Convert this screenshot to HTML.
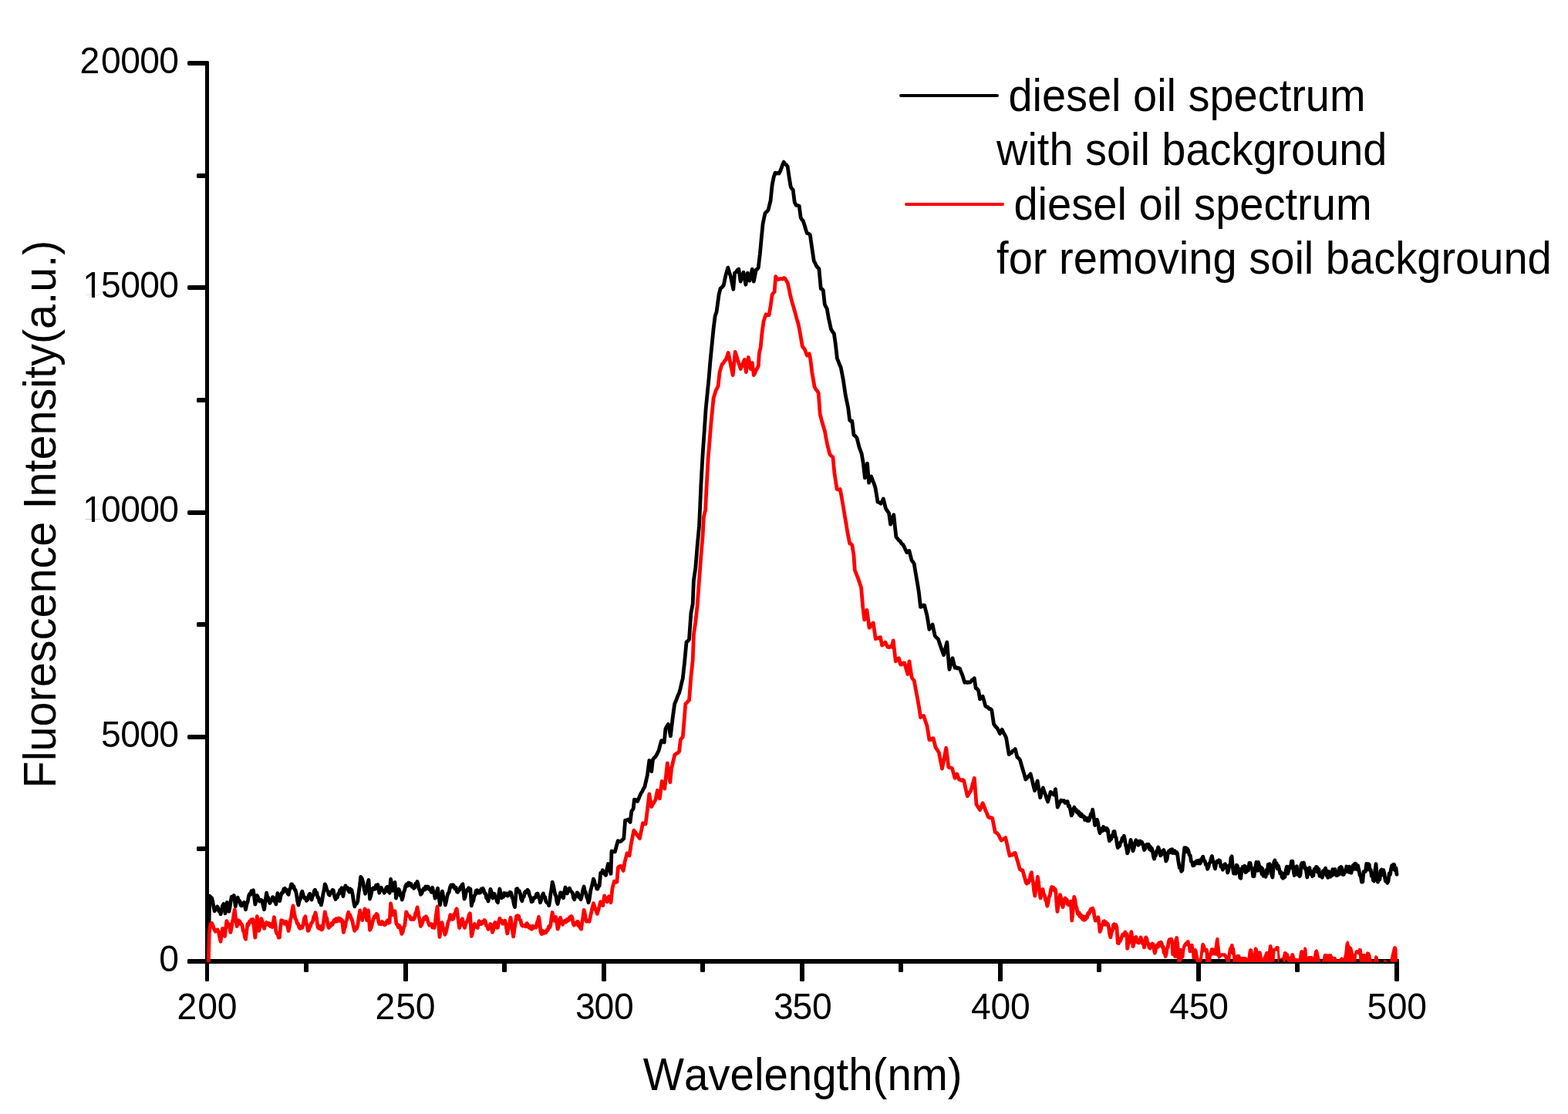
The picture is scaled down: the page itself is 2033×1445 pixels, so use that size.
<!DOCTYPE html><html><head><meta charset="utf-8"><title>Fluorescence spectrum</title><style>html,body{margin:0;padding:0;background:#fff;overflow:hidden}svg{display:block}text{font-family:"Liberation Sans",Arial,sans-serif;fill:#000;font-kerning:none}</style></head><body>
<svg width="2033" height="1445" viewBox="0 0 2033 1445">
<rect width="2033" height="1445" fill="#fff"/>
<g fill="#000">
<rect x="266" y="79" width="5" height="1194" rx="1.5"/>
<rect x="243" y="1244" width="1571" height="6" rx="1.5"/>
<rect x="243" y="1244" width="25" height="6" rx="2"/>
<rect x="255" y="1098" width="13" height="6" rx="1.5"/>
<rect x="243" y="953" width="25" height="6" rx="2"/>
<rect x="255" y="807" width="13" height="6" rx="1.5"/>
<rect x="243" y="662" width="25" height="6" rx="2"/>
<rect x="255" y="516" width="13" height="6" rx="1.5"/>
<rect x="243" y="370" width="25" height="6" rx="2"/>
<rect x="255" y="225" width="13" height="6" rx="1.5"/>
<rect x="243" y="79" width="25" height="6" rx="2"/>
<rect x="394" y="1244" width="6" height="17" rx="1.5"/>
<rect x="523" y="1244" width="6" height="29" rx="1.5"/>
<rect x="651" y="1244" width="6" height="17" rx="1.5"/>
<rect x="780" y="1244" width="6" height="29" rx="1.5"/>
<rect x="908" y="1244" width="6" height="17" rx="1.5"/>
<rect x="1037" y="1244" width="6" height="29" rx="1.5"/>
<rect x="1165" y="1244" width="6" height="17" rx="1.5"/>
<rect x="1294" y="1244" width="6" height="29" rx="1.5"/>
<rect x="1422" y="1244" width="6" height="17" rx="1.5"/>
<rect x="1551" y="1244" width="6" height="29" rx="1.5"/>
<rect x="1679" y="1244" width="6" height="17" rx="1.5"/>
<rect x="1808" y="1244" width="6" height="29" rx="1.5"/>
</g>
<defs><clipPath id="pa"><rect x="268" y="0" width="1546" height="1248"/></clipPath></defs>
<g clip-path="url(#pa)">
<path d="M270.8,1207.4 L271.8,1162.1 L274.8,1165.1 L275.9,1170.1 L277.1,1177.0 L278.2,1181.8 L279.3,1178.0 L280.5,1179.4 L281.6,1175.9 L282.7,1177.6 L283.9,1182.1 L285.0,1182.0 L286.1,1185.8 L287.3,1181.1 L288.5,1174.9 L290.0,1172.5 L291.5,1173.9 L292.0,1184.8 L293.2,1178.2 L294.4,1170.5 L295.7,1175.4 L296.9,1182.3 L298.0,1177.0 L299.2,1168.6 L300.3,1163.1 L301.8,1164.1 L303.3,1161.6 L305.3,1175.9 L306.7,1168.6 L308.2,1164.1 L309.4,1168.8 L310.7,1168.5 L311.9,1173.8 L313.1,1174.9 L314.3,1171.7 L315.4,1173.1 L316.6,1170.5 L318.5,1179.8 L319.8,1173.4 L321.2,1169.7 L322.5,1162.1 L323.6,1159.5 L324.8,1160.3 L326.0,1155.7 L327.2,1157.8 L328.4,1154.8 L329.6,1163.0 L330.8,1173.0 L332.1,1168.7 L333.3,1161.6 L334.4,1163.4 L335.6,1168.2 L336.7,1169.0 L338.2,1167.2 L339.7,1168.0 L341.2,1174.6 L342.6,1179.8 L344.1,1167.9 L345.6,1158.2 L346.7,1163.4 L347.8,1164.0 L348.9,1169.6 L350.0,1171.5 L351.2,1167.8 L352.3,1167.9 L353.5,1163.6 L354.6,1164.3 L355.7,1169.2 L356.8,1168.8 L357.9,1173.0 L359.9,1158.7 L361.3,1165.0 L362.8,1168.5 L364.0,1162.0 L365.3,1158.2 L366.6,1158.1 L367.9,1153.0 L369.2,1152.3 L370.4,1156.1 L371.7,1154.3 L372.9,1159.0 L374.1,1160.2 L375.3,1154.1 L376.4,1152.4 L377.6,1146.9 L378.6,1147.0 L379.7,1150.7 L380.8,1149.6 L381.9,1153.9 L383.0,1154.3 L384.3,1159.3 L385.6,1168.2 L386.9,1173.9 L388.1,1168.2 L389.4,1166.2 L390.6,1159.3 L391.8,1156.2 L393.3,1161.5 L394.8,1165.1 L396.1,1164.7 L397.4,1168.4 L398.7,1167.1 L400.2,1161.5 L401.7,1159.2 L402.9,1164.4 L404.1,1167.1 L405.2,1162.0 L406.3,1161.5 L407.4,1155.7 L408.5,1154.3 L409.7,1157.9 L410.8,1157.9 L411.9,1164.2 L413.0,1164.1 L414.2,1170.3 L415.3,1169.4 L416.4,1173.9 L417.6,1168.6 L418.9,1159.9 L420.1,1154.6 L421.3,1146.9 L422.6,1149.5 L423.8,1154.4 L425.0,1156.0 L426.3,1160.2 L427.4,1161.2 L428.6,1157.1 L429.8,1158.1 L431.0,1154.4 L432.2,1154.8 L433.6,1162.3 L435.1,1166.6 L436.2,1162.4 L437.4,1164.0 L438.5,1159.3 L439.6,1159.6 L440.7,1154.4 L441.9,1154.6 L443.0,1151.8 L444.9,1162.6 L446.4,1154.4 L447.9,1148.9 L449.2,1152.2 L450.5,1151.6 L451.8,1155.3 L452.9,1156.9 L453.9,1152.9 L454.9,1156.1 L455.9,1154.3 L457.2,1160.4 L458.5,1169.4 L459.8,1175.9 L461.1,1172.2 L462.5,1172.1 L463.8,1169.0 L465.1,1157.6 L466.4,1149.0 L467.7,1137.5 L469.2,1139.3 L470.7,1144.4 L472.1,1152.8 L473.6,1159.2 L474.7,1154.2 L475.8,1151.5 L476.9,1145.1 L478.0,1141.5 L479.5,1166.1 L481.0,1161.1 L482.5,1153.3 L483.9,1151.9 L485.4,1153.3 L486.5,1153.1 L487.6,1148.3 L488.7,1150.1 L489.8,1147.4 L491.8,1158.2 L493.0,1153.7 L494.3,1151.3 L495.6,1154.8 L496.9,1154.6 L498.2,1158.2 L499.5,1156.3 L500.8,1151.5 L502.1,1150.3 L503.6,1156.1 L505.1,1158.2 L506.6,1140.5 L507.8,1146.8 L509.0,1155.3 L510.5,1151.3 L512.0,1144.4 L513.5,1165.1 L514.6,1159.4 L515.7,1158.9 L516.9,1153.3 L518.0,1155.2 L519.1,1161.8 L520.2,1161.9 L521.3,1167.1 L522.4,1163.5 L523.5,1157.1 L524.6,1154.7 L525.8,1149.4 L527.0,1147.2 L528.2,1149.0 L529.4,1145.2 L530.7,1145.4 L531.8,1148.4 L533.0,1146.6 L534.2,1150.4 L535.4,1149.6 L536.6,1152.3 L537.7,1151.3 L538.8,1146.2 L539.9,1146.4 L541.0,1143.4 L542.1,1146.9 L543.2,1153.0 L544.3,1154.9 L545.4,1160.2 L546.9,1158.8 L548.4,1154.3 L549.5,1152.4 L550.7,1154.0 L551.8,1150.0 L553.0,1152.8 L554.1,1150.0 L555.3,1150.3 L556.6,1153.7 L557.9,1153.8 L559.2,1157.2 L560.7,1151.3 L561.8,1156.7 L563.0,1159.3 L564.1,1165.1 L565.3,1162.6 L566.4,1155.9 L567.6,1152.3 L569.0,1164.0 L570.5,1173.9 L572.0,1163.9 L573.5,1156.2 L574.8,1163.7 L576.1,1166.3 L577.4,1173.9 L578.5,1169.7 L579.7,1162.9 L580.8,1159.2 L582.2,1157.2 L583.5,1151.0 L584.8,1147.9 L586.1,1150.1 L587.4,1147.8 L588.7,1149.4 L589.9,1153.1 L591.2,1151.2 L592.4,1156.7 L593.6,1157.2 L594.7,1154.8 L595.8,1154.5 L596.8,1150.8 L597.9,1152.3 L599.0,1147.6 L600.0,1146.9 L602.0,1166.1 L603.1,1163.6 L604.3,1157.1 L605.4,1154.3 L606.5,1155.2 L607.6,1151.8 L608.8,1154.8 L609.9,1153.3 L611.3,1174.9 L612.5,1169.9 L613.7,1168.6 L614.9,1161.9 L616.1,1160.8 L617.2,1155.3 L618.4,1154.7 L619.5,1158.2 L620.7,1158.2 L621.8,1155.6 L622.8,1157.9 L623.9,1153.1 L625.0,1155.7 L626.1,1152.3 L627.2,1154.5 L628.4,1159.0 L629.5,1159.0 L630.7,1165.0 L631.8,1164.8 L633.0,1169.0 L634.5,1162.4 L635.9,1153.3 L637.4,1157.6 L638.9,1165.1 L640.9,1159.2 L642.0,1163.6 L643.1,1163.6 L644.3,1169.2 L645.4,1170.7 L646.6,1160.7 L647.9,1153.0 L649.1,1159.8 L650.3,1164.8 L651.4,1161.6 L652.5,1163.4 L653.6,1158.5 L654.8,1158.9 L656.0,1160.9 L657.2,1159.1 L658.4,1162.0 L659.7,1160.8 L661.2,1157.3 L662.6,1157.9 L663.9,1163.9 L665.1,1165.9 L666.3,1172.9 L667.5,1176.6 L669.5,1153.0 L670.8,1152.7 L672.1,1156.8 L673.4,1155.9 L674.6,1159.5 L675.7,1166.1 L676.9,1168.7 L678.0,1163.4 L679.2,1163.3 L680.3,1157.9 L681.6,1156.4 L682.8,1157.8 L684.0,1154.2 L685.3,1155.9 L686.6,1161.6 L687.9,1164.2 L689.2,1169.7 L690.5,1169.3 L691.8,1164.7 L693.1,1164.8 L694.4,1163.7 L695.7,1159.4 L697.1,1158.9 L698.2,1164.2 L699.4,1165.2 L700.5,1170.7 L701.8,1167.3 L703.1,1161.1 L704.4,1158.9 L705.5,1163.0 L706.7,1163.6 L707.8,1169.1 L708.9,1170.7 L710.3,1171.5 L711.8,1174.6 L712.9,1168.3 L714.0,1158.7 L715.1,1152.7 L716.2,1144.1 L717.5,1148.8 L718.7,1154.9 L719.8,1160.7 L720.9,1162.1 L722.0,1169.8 L723.1,1172.6 L724.3,1167.0 L725.4,1164.1 L726.6,1157.9 L727.9,1158.2 L729.2,1163.4 L730.5,1164.8 L731.7,1156.9 L733.0,1151.0 L734.2,1156.4 L735.4,1158.9 L736.9,1153.8 L738.4,1152.0 L739.9,1155.8 L741.3,1156.9 L742.5,1158.7 L743.6,1164.9 L744.8,1166.7 L745.9,1162.7 L747.1,1162.3 L748.2,1157.9 L749.4,1158.6 L750.7,1164.0 L751.9,1163.1 L753.1,1166.7 L754.4,1162.1 L755.8,1154.5 L757.1,1150.0 L758.2,1155.9 L759.4,1157.5 L760.6,1163.2 L761.8,1166.0 L763.0,1170.7 L764.3,1165.6 L765.6,1155.9 L766.9,1151.0 L768.1,1146.4 L769.4,1140.2 L770.5,1142.4 L771.6,1147.4 L772.7,1148.4 L773.8,1153.0 L774.9,1153.1 L776.1,1148.4 L777.2,1149.0 L778.7,1132.3 L780.0,1132.7 L781.3,1128.8 L782.6,1130.3 L784.1,1134.1 L785.6,1135.3 L787.1,1126.4 L788.5,1120.5 L789.7,1126.3 L790.8,1128.7 L792.0,1133.3 L793.0,1103.8 L795.2,1104.9 L797.4,1104.8 L799.3,1097.4 L801.2,1090.6 L803.2,1091.6 L805.3,1091.2 L807.1,1089.1 L808.8,1087.6 L810.6,1064.1 L812.4,1064.2 L814.1,1062.9 L817.1,1066.5 L818.8,1052.4 L821.2,1048.8 L822.4,1037.1 L824.4,1037.4 L826.5,1039.4 L828.0,1036.3 L829.6,1032.2 L831.2,1028.8 L832.7,1026.5 L834.3,1023.0 L835.9,1020.6 L837.6,1013.1 L839.4,1005.3 L841.8,986.5 L844.7,1000.6 L846.5,985.3 L848.0,983.1 L849.6,981.9 L851.2,979.4 L854.1,973.5 L855.9,966.7 L857.6,960.6 L859.4,962.3 L861.2,962.9 L862.9,945.3 L864.7,942.0 L866.5,939.4 L869.4,954.7 L872.4,929.4 L874.7,912.9 L876.7,908.5 L878.6,903.1 L880.6,898.8 L882.2,892.8 L883.7,886.2 L885.3,880.0 L887.6,858.8 L890.0,832.9 L891.8,831.5 L893.5,829.4 L895.9,795.3 L898.2,783.5 L899.4,752.9 L901.8,736.5 L904.1,708.2 L906.5,682.4 L907.6,658.8 L908.8,630.6 L911.0,591.0 L913.1,560.9 L915.1,530.8 L917.1,510.7 L919.1,490.6 L921.1,466.5 L923.1,446.5 L925.1,426.4 L927.1,410.3 L929.1,404.3 L930.6,393.1 L932.1,382.2 L934.1,374.2 L936.1,372.6 L938.2,370.2 L939.7,362.9 L941.2,356.1 L943.8,347.1 L945.5,352.9 L947.2,358.1 L949.0,366.4 L950.8,375.2 L952.6,354.1 L954.4,353.0 L956.1,350.3 L957.8,349.1 L960.2,365.1 L962.0,359.3 L963.9,353.1 L965.4,361.0 L966.9,369.2 L969.3,354.1 L971.9,364.1 L973.6,356.9 L975.3,349.1 L977.3,365.1 L978.8,357.5 L980.3,350.1 L981.8,349.1 L983.3,347.1 L984.3,338.0 L985.3,330.0 L987.1,310.4 L989.1,290.3 L990.6,283.1 L992.1,276.3 L994.1,274.6 L996.1,272.3 L997.6,266.1 L999.1,260.2 L1001.1,240.2 L1003.1,230.1 L1005.1,224.1 L1006.8,225.1 L1008.5,224.2 L1010.1,225.1 L1011.6,221.9 L1013.1,218.1 L1014.6,213.8 L1016.2,210.1 L1017.8,212.7 L1019.5,213.8 L1021.2,216.1 L1023.2,230.1 L1025.2,242.2 L1026.7,244.8 L1028.2,246.2 L1030.2,262.2 L1032.2,266.3 L1034.2,266.4 L1036.2,267.3 L1038.2,282.3 L1039.7,284.9 L1041.2,286.3 L1042.9,291.5 L1044.6,297.3 L1046.3,302.4 L1048.3,303.1 L1050.3,304.4 L1052.3,318.4 L1053.8,328.6 L1055.3,338.5 L1056.8,341.1 L1058.3,344.5 L1060.1,347.0 L1061.9,348.5 L1064.3,374.6 L1065.8,374.9 L1067.3,376.6 L1069.3,394.7 L1070.8,397.9 L1072.3,400.7 L1074.3,412.7 L1075.9,419.6 L1077.4,426.8 L1079.4,430.2 L1081.4,432.8 L1083.4,446.9 L1085.4,464.9 L1087.0,468.7 L1088.6,473.1 L1090.2,476.6 L1091.8,484.8 L1093.4,493.2 L1094.9,503.7 L1096.5,514.0 L1098.0,521.1 L1099.6,528.5 L1101.7,545.2 L1103.2,546.4 L1104.8,546.2 L1106.9,563.9 L1108.9,565.7 L1111.0,568.0 L1112.6,574.4 L1114.1,580.5 L1115.7,584.4 L1117.2,588.8 L1119.3,601.2 L1121.4,619.9 L1123.0,610.7 L1124.5,601.2 L1126.6,626.2 L1128.1,621.7 L1129.7,617.9 L1131.4,623.0 L1133.2,627.2 L1134.9,632.4 L1136.5,641.9 L1138.0,651.1 L1140.1,651.7 L1142.2,653.2 L1143.7,650.3 L1145.3,646.9 L1146.8,653.1 L1148.4,659.4 L1150.5,662.8 L1152.6,665.6 L1154.6,680.2 L1156.7,673.7 L1158.8,667.7 L1160.3,682.4 L1161.9,696.8 L1163.6,698.3 L1165.4,700.9 L1167.1,701.9 L1168.9,705.0 L1170.6,706.2 L1172.4,709.5 L1174.1,713.3 L1175.8,716.6 L1177.4,714.9 L1178.9,714.5 L1180.5,721.0 L1182.1,727.0 L1183.6,728.7 L1185.2,731.2 L1186.7,740.7 L1188.3,749.9 L1189.9,759.0 L1191.4,768.6 L1193.5,787.3 L1195.2,786.9 L1197.0,785.0 L1198.7,785.2 L1200.2,791.7 L1201.8,797.6 L1203.4,806.9 L1204.9,816.3 L1207.0,813.6 L1209.1,810.1 L1210.6,817.2 L1212.2,824.7 L1214.3,827.2 L1216.3,828.8 L1218.4,834.9 L1220.5,841.3 L1222.1,845.7 L1223.6,849.6 L1225.7,841.0 L1227.8,833.0 L1229.3,850.7 L1230.9,868.3 L1233.0,860.7 L1235.0,853.7 L1236.6,860.1 L1238.2,866.2 L1239.7,865.5 L1241.3,867.1 L1242.8,866.5 L1244.4,867.2 L1246.2,872.0 L1248.0,876.2 L1250.7,885.2 L1252.3,884.6 L1253.8,885.6 L1255.4,884.7 L1257.0,885.2 L1258.6,884.5 L1260.1,882.2 L1261.7,881.4 L1263.3,879.8 L1265.1,892.4 L1266.9,893.5 L1268.7,896.0 L1270.5,906.8 L1272.3,905.6 L1274.1,903.2 L1275.9,909.3 L1277.7,915.8 L1279.3,917.2 L1280.9,917.2 L1282.5,919.7 L1284.1,919.4 L1285.8,921.2 L1288.5,939.1 L1290.7,942.3 L1292.9,944.5 L1294.7,947.8 L1296.5,951.7 L1299.2,946.3 L1301.0,950.4 L1302.8,953.2 L1304.6,957.1 L1306.4,968.0 L1308.2,978.7 L1309.9,977.0 L1311.5,976.4 L1313.1,973.8 L1314.7,973.5 L1316.3,971.5 L1319.0,982.3 L1320.8,983.5 L1322.6,985.9 L1324.4,992.4 L1326.2,998.5 L1328.0,1004.6 L1329.8,1011.1 L1331.4,1009.6 L1333.0,1007.1 L1334.5,1006.0 L1336.1,1003.9 L1337.9,1010.8 L1339.7,1018.4 L1341.5,1025.5 L1343.3,1019.0 L1345.1,1012.9 L1346.9,1023.9 L1348.7,1034.5 L1350.5,1028.0 L1352.3,1021.9 L1353.9,1026.6 L1355.4,1030.5 L1357.0,1035.7 L1358.6,1039.9 L1360.4,1033.4 L1362.2,1027.3 L1364.4,1029.4 L1366.7,1030.9 L1368.5,1023.7 L1371.2,1047.1 L1373.4,1042.2 L1375.7,1038.1 L1377.5,1039.2 L1379.3,1038.4 L1381.1,1041.5 L1382.9,1039.9 L1384.1,1039.6 L1385.3,1045.7 L1386.5,1045.3 L1387.8,1050.6 L1389.2,1057.8 L1390.4,1056.0 L1391.6,1049.9 L1392.8,1047.1 L1393.9,1049.7 L1395.0,1049.8 L1396.1,1053.4 L1397.3,1054.2 L1398.3,1052.5 L1399.3,1057.1 L1400.3,1054.4 L1401.3,1058.6 L1402.3,1056.3 L1403.3,1059.2 L1404.3,1058.9 L1405.4,1058.8 L1406.5,1063.5 L1407.6,1060.7 L1408.7,1063.3 L1409.7,1064.6 L1410.8,1061.1 L1411.9,1064.5 L1413.0,1061.8 L1414.2,1056.1 L1415.4,1055.3 L1416.6,1050.2 L1418.1,1059.2 L1419.6,1070.5 L1421.0,1068.3 L1422.5,1063.3 L1423.7,1067.6 L1424.9,1076.3 L1426.1,1080.7 L1427.2,1076.1 L1428.3,1074.9 L1429.4,1077.8 L1430.6,1072.5 L1431.7,1076.5 L1432.8,1074.0 L1434.0,1076.9 L1435.1,1074.5 L1436.3,1076.3 L1437.4,1085.2 L1438.4,1090.9 L1439.5,1086.9 L1440.6,1088.5 L1441.7,1083.8 L1442.8,1084.8 L1443.9,1078.7 L1445.0,1078.5 L1446.1,1084.8 L1447.2,1087.3 L1448.3,1095.0 L1449.3,1099.6 L1450.5,1096.3 L1451.6,1097.4 L1452.8,1092.2 L1453.9,1091.9 L1455.1,1087.0 L1456.2,1088.5 L1457.3,1084.3 L1458.4,1088.5 L1459.5,1096.2 L1460.6,1100.2 L1461.7,1106.9 L1462.8,1104.2 L1463.9,1097.0 L1465.0,1094.7 L1466.1,1089.4 L1467.5,1096.1 L1469.0,1103.9 L1470.4,1099.2 L1471.9,1092.3 L1472.9,1089.8 L1473.9,1093.9 L1474.9,1091.2 L1475.9,1096.2 L1477.0,1093.8 L1478.2,1091.0 L1479.4,1094.2 L1480.6,1092.3 L1482.0,1095.7 L1483.5,1102.5 L1484.7,1101.0 L1485.9,1096.0 L1487.1,1095.2 L1488.2,1097.8 L1489.2,1095.3 L1490.2,1101.4 L1491.3,1098.0 L1492.3,1103.0 L1493.4,1100.4 L1494.4,1103.9 L1495.5,1111.0 L1496.6,1114.1 L1497.6,1109.8 L1498.6,1109.6 L1499.6,1104.0 L1500.6,1102.8 L1501.7,1098.9 L1503.1,1102.6 L1504.6,1109.8 L1505.7,1108.8 L1506.8,1104.3 L1507.8,1105.3 L1508.9,1102.5 L1510.4,1108.2 L1511.8,1117.0 L1513.1,1114.5 L1514.3,1106.2 L1515.5,1103.9 L1516.6,1105.7 L1517.7,1102.2 L1518.7,1105.7 L1519.8,1101.6 L1520.9,1106.5 L1522.0,1103.9 L1523.1,1103.6 L1524.2,1106.9 L1525.3,1105.2 L1526.4,1106.9 L1527.8,1117.1 L1529.3,1125.7 L1530.5,1124.5 L1531.7,1130.3 L1532.9,1128.7 L1534.4,1112.6 L1535.8,1099.6 L1536.8,1101.4 L1537.9,1099.7 L1538.9,1104.7 L1539.9,1101.3 L1540.9,1103.9 L1542.1,1109.0 L1543.2,1109.6 L1544.4,1117.3 L1545.6,1118.2 L1546.7,1122.8 L1548.2,1122.4 L1549.6,1118.5 L1550.7,1117.3 L1551.7,1119.8 L1552.7,1116.5 L1553.8,1119.9 L1554.8,1115.9 L1555.9,1120.1 L1556.9,1118.5 L1558.3,1113.8 L1559.8,1111.2 L1561.0,1116.2 L1562.1,1116.5 L1563.3,1121.6 L1564.4,1121.7 L1565.6,1127.2 L1566.8,1124.9 L1567.9,1119.6 L1569.1,1118.7 L1570.3,1113.1 L1571.4,1110.5 L1572.5,1116.4 L1573.5,1117.9 L1574.5,1123.5 L1575.5,1126.9 L1576.8,1119.9 L1578.0,1117.1 L1579.2,1118.3 L1580.5,1115.8 L1581.7,1116.6 L1582.9,1124.2 L1584.1,1123.1 L1585.4,1128.1 L1586.4,1126.4 L1587.4,1121.4 L1588.4,1120.7 L1589.5,1123.8 L1590.6,1123.4 L1591.7,1132.0 L1592.7,1129.4 L1593.8,1122.4 L1594.9,1123.9 L1596.0,1112.5 L1597.1,1110.9 L1598.3,1124.9 L1599.5,1133.0 L1600.7,1126.5 L1602.0,1133.4 L1603.2,1122.2 L1604.4,1123.2 L1605.5,1131.5 L1606.6,1127.0 L1607.7,1138.6 L1608.7,1139.2 L1610.0,1129.2 L1611.2,1124.4 L1612.4,1129.4 L1613.7,1123.2 L1614.9,1131.6 L1616.1,1130.6 L1617.3,1124.6 L1618.6,1129.0 L1619.8,1119.5 L1621.0,1119.5 L1622.3,1126.0 L1623.5,1126.3 L1624.7,1136.6 L1626.0,1136.7 L1627.8,1124.4 L1629.0,1118.3 L1630.3,1129.4 L1631.5,1118.5 L1632.7,1123.2 L1633.8,1129.0 L1634.8,1124.8 L1635.9,1133.6 L1636.9,1126.7 L1638.0,1136.3 L1639.0,1131.6 L1640.1,1135.5 L1641.1,1137.3 L1642.1,1128.5 L1643.2,1133.2 L1644.2,1121.5 L1645.2,1126.7 L1646.2,1120.7 L1647.5,1123.1 L1648.7,1134.3 L1649.9,1138.0 L1651.8,1118.3 L1652.9,1116.0 L1654.0,1123.2 L1655.2,1119.7 L1656.3,1126.9 L1657.4,1123.1 L1658.5,1126.9 L1659.8,1133.0 L1661.0,1131.2 L1662.2,1137.8 L1663.5,1139.2 L1664.7,1133.2 L1665.9,1137.7 L1667.1,1129.4 L1668.4,1124.1 L1669.6,1133.2 L1670.8,1129.4 L1672.1,1124.0 L1673.3,1125.2 L1674.5,1117.1 L1675.8,1117.1 L1677.0,1129.1 L1678.2,1135.5 L1680.1,1125.7 L1681.3,1123.8 L1682.5,1134.5 L1683.7,1129.2 L1685.0,1136.7 L1686.0,1134.6 L1687.0,1121.5 L1688.1,1119.5 L1689.3,1124.1 L1690.5,1119.0 L1691.7,1126.5 L1693.0,1125.7 L1694.8,1138.0 L1696.7,1126.9 L1697.9,1125.5 L1699.1,1133.6 L1700.3,1130.9 L1701.6,1136.7 L1702.8,1135.8 L1704.0,1127.3 L1705.3,1129.7 L1706.5,1124.4 L1707.6,1124.8 L1708.8,1131.8 L1709.9,1127.3 L1711.0,1136.4 L1712.1,1132.5 L1713.3,1136.7 L1714.3,1138.1 L1715.4,1129.7 L1716.5,1132.2 L1717.6,1128.1 L1718.6,1126.2 L1719.6,1135.4 L1720.6,1129.5 L1721.7,1138.4 L1722.7,1130.4 L1723.7,1136.7 L1724.7,1137.3 L1725.8,1131.7 L1726.8,1135.9 L1727.8,1127.7 L1728.8,1134.3 L1729.9,1129.4 L1731.1,1127.5 L1732.3,1135.4 L1733.6,1135.5 L1734.6,1131.1 L1735.6,1134.5 L1736.6,1126.0 L1737.7,1133.3 L1738.7,1124.4 L1739.7,1125.7 L1740.9,1134.4 L1742.2,1134.3 L1743.4,1129.7 L1744.6,1131.0 L1745.8,1123.9 L1747.1,1124.4 L1748.3,1131.1 L1749.5,1124.1 L1750.8,1131.8 L1752.0,1132.1 L1753.2,1125.7 L1754.5,1122.1 L1755.7,1127.4 L1756.9,1120.1 L1758.1,1120.7 L1759.4,1127.9 L1760.6,1122.8 L1761.8,1128.1 L1763.1,1135.1 L1764.3,1136.9 L1765.5,1144.1 L1766.8,1143.8 L1768.0,1130.6 L1769.2,1130.6 L1770.4,1130.4 L1771.7,1120.3 L1772.9,1128.1 L1774.1,1120.7 L1775.2,1121.3 L1776.2,1128.7 L1777.3,1128.2 L1778.3,1136.4 L1779.4,1134.3 L1780.5,1141.9 L1781.5,1142.9 L1782.7,1130.1 L1784.0,1120.7 L1785.2,1135.5 L1786.4,1144.1 L1787.7,1138.5 L1788.9,1140.8 L1790.1,1129.1 L1791.3,1128.1 L1792.6,1134.7 L1793.8,1128.6 L1795.0,1134.3 L1796.3,1142.8 L1797.5,1139.5 L1798.7,1145.3 L1800.0,1143.0 L1801.2,1133.0 L1802.4,1134.6 L1803.6,1126.9 L1804.7,1122.6 L1805.8,1127.4 L1806.9,1121.1 L1807.9,1122.0 L1809.0,1129.1 L1810.0,1126.1 L1811.0,1134.3" fill="none" stroke="#000" stroke-width="4.8" stroke-linejoin="round" stroke-linecap="round"/>
<path d="M270.3,1246.7 L271.3,1209.4 L272.8,1198.5 L274.3,1197.2 L275.7,1199.5 L277.7,1205.4 L279.2,1208.2 L280.7,1206.4 L282.1,1206.0 L283.6,1209.4 L284.8,1216.0 L286.1,1221.2 L287.3,1212.0 L288.5,1204.4 L290.0,1211.1 L291.5,1214.3 L292.7,1204.0 L293.9,1194.6 L295.2,1198.5 L296.4,1198.5 L297.6,1202.5 L298.9,1209.4 L300.0,1204.5 L301.2,1196.7 L302.3,1191.7 L304.3,1179.8 L305.7,1192.6 L307.2,1201.5 L308.7,1193.6 L309.8,1196.0 L310.9,1195.0 L312.0,1198.7 L313.1,1198.5 L314.2,1201.3 L315.3,1207.7 L316.4,1208.5 L317.5,1215.8 L318.5,1218.2 L319.8,1207.4 L321.0,1198.5 L322.1,1199.8 L323.3,1195.5 L324.4,1196.5 L325.6,1192.9 L326.7,1194.4 L327.9,1192.6 L329.4,1204.0 L330.8,1216.2 L332.1,1203.3 L333.3,1188.7 L334.5,1197.2 L335.8,1207.4 L337.2,1201.1 L338.7,1191.7 L340.0,1194.5 L341.3,1201.4 L342.6,1204.4 L344.1,1199.2 L345.6,1196.6 L346.6,1198.5 L347.7,1197.5 L348.7,1200.1 L349.8,1198.1 L350.9,1201.8 L351.9,1200.3 L353.0,1202.5 L354.2,1196.6 L355.4,1189.7 L356.7,1197.8 L357.9,1208.4 L359.0,1211.2 L360.1,1211.3 L361.2,1216.2 L362.3,1216.2 L363.5,1204.1 L364.8,1193.6 L365.9,1196.9 L367.1,1194.6 L368.2,1197.6 L369.7,1198.5 L371.2,1195.6 L372.6,1200.8 L374.1,1207.4 L375.3,1202.0 L376.5,1193.4 L377.7,1189.4 L378.8,1180.5 L380.0,1174.9 L381.5,1184.4 L383.0,1191.7 L384.2,1193.5 L385.3,1197.9 L386.5,1198.2 L387.7,1202.7 L388.9,1204.4 L390.3,1201.8 L391.8,1203.5 L393.1,1199.6 L394.4,1191.8 L395.8,1188.7 L396.9,1196.1 L398.1,1200.0 L399.2,1207.4 L400.3,1206.8 L401.4,1201.5 L402.4,1201.7 L403.5,1197.5 L404.6,1196.6 L405.7,1194.3 L406.8,1189.0 L407.9,1187.7 L409.0,1183.8 L410.5,1191.6 L412.0,1202.5 L413.1,1203.9 L414.1,1201.3 L415.2,1204.7 L416.3,1201.6 L417.3,1206.0 L418.4,1204.4 L419.9,1193.1 L421.3,1182.8 L422.6,1189.5 L423.8,1191.4 L425.0,1199.9 L426.3,1203.5 L427.4,1200.3 L428.6,1201.2 L429.8,1197.8 L431.0,1199.3 L432.2,1195.6 L433.3,1193.4 L434.5,1195.4 L435.7,1191.6 L436.9,1195.0 L438.1,1192.6 L439.1,1191.1 L440.2,1194.4 L441.3,1191.8 L442.4,1194.6 L443.5,1193.6 L445.4,1209.4 L446.5,1204.4 L447.6,1202.3 L448.6,1195.2 L449.7,1193.2 L450.8,1186.7 L451.8,1183.3 L452.9,1187.1 L453.9,1186.8 L454.9,1190.7 L455.9,1191.7 L457.2,1196.3 L458.5,1202.8 L459.8,1207.4 L461.1,1203.0 L462.5,1204.4 L463.8,1200.5 L465.2,1189.8 L466.7,1180.8 L468.2,1188.4 L469.7,1193.6 L470.8,1187.1 L472.0,1184.7 L473.1,1178.9 L474.3,1185.1 L475.6,1193.6 L477.5,1180.8 L479.5,1206.4 L481.0,1204.0 L482.5,1198.5 L483.9,1192.6 L485.4,1188.7 L486.7,1189.6 L488.0,1185.4 L489.4,1186.7 L490.6,1194.2 L491.8,1198.5 L493.0,1196.6 L494.1,1198.8 L495.3,1195.6 L496.7,1196.9 L498.2,1199.5 L499.7,1199.4 L501.2,1195.6 L502.5,1193.8 L503.8,1197.2 L505.1,1196.6 L506.6,1172.0 L507.8,1178.4 L509.0,1186.7 L510.5,1186.1 L512.0,1181.8 L513.9,1198.5 L515.2,1199.1 L516.4,1202.7 L517.6,1200.3 L518.9,1203.5 L520.8,1211.3 L522.1,1209.0 L523.5,1202.5 L524.8,1200.5 L526.7,1182.8 L528.2,1186.2 L529.7,1187.7 L531.0,1188.4 L532.3,1192.2 L533.6,1192.6 L534.9,1191.0 L536.2,1192.6 L537.6,1190.7 L538.7,1184.4 L539.9,1182.7 L541.0,1176.9 L542.1,1182.2 L543.2,1190.0 L544.3,1193.8 L545.4,1201.5 L546.9,1199.3 L548.4,1194.6 L549.7,1190.5 L551.0,1192.1 L552.3,1188.7 L553.8,1191.3 L555.3,1196.6 L556.7,1200.2 L558.2,1199.5 L559.4,1198.6 L560.7,1203.1 L561.9,1201.1 L563.1,1203.5 L564.4,1195.6 L565.8,1184.2 L567.1,1175.9 L568.5,1196.6 L570.0,1215.3 L571.5,1205.4 L573.0,1196.6 L574.3,1202.9 L575.6,1205.9 L576.9,1212.3 L578.4,1208.7 L579.9,1201.5 L581.2,1195.7 L582.5,1193.2 L583.8,1186.7 L585.3,1188.1 L586.7,1192.6 L587.8,1191.5 L588.9,1185.7 L590.0,1186.3 L591.1,1180.6 L592.2,1178.9 L593.3,1187.9 L594.4,1194.6 L595.6,1203.5 L596.9,1200.2 L598.2,1194.7 L599.5,1191.7 L601.0,1199.2 L602.5,1203.5 L604.0,1197.8 L605.4,1195.6 L606.7,1192.7 L608.1,1187.0 L609.4,1184.8 L611.3,1214.3 L612.6,1210.2 L614.0,1202.5 L615.3,1198.5 L616.6,1201.9 L617.9,1200.7 L619.2,1203.5 L621.2,1194.6 L622.7,1198.7 L624.1,1198.5 L625.4,1195.5 L626.8,1196.9 L628.1,1193.6 L629.3,1195.1 L630.5,1200.4 L631.8,1201.8 L633.0,1205.4 L634.5,1203.2 L635.9,1198.5 L637.2,1202.5 L638.4,1209.4 L639.5,1206.7 L640.7,1199.4 L641.8,1196.6 L643.3,1200.8 L644.8,1203.5 L645.4,1203.1 L646.6,1195.6 L647.9,1191.3 L649.2,1195.5 L650.5,1194.0 L651.8,1198.2 L653.3,1197.7 L654.8,1194.3 L656.2,1201.1 L657.7,1211.0 L658.8,1206.4 L659.9,1200.1 L661.0,1196.0 L662.1,1190.3 L663.3,1197.8 L664.4,1207.4 L665.6,1214.9 L666.9,1205.4 L668.2,1198.3 L669.5,1188.4 L671.0,1187.6 L672.5,1188.4 L673.7,1193.0 L674.9,1193.9 L676.2,1199.5 L677.4,1201.2 L678.9,1200.4 L680.3,1201.2 L681.6,1201.7 L683.0,1197.6 L684.3,1199.2 L685.7,1203.1 L687.2,1204.1 L688.4,1201.6 L689.6,1205.2 L690.8,1201.2 L691.9,1203.6 L693.1,1202.1 L695.1,1203.1 L696.2,1197.3 L697.4,1194.5 L698.5,1189.4 L699.8,1198.0 L701.0,1209.0 L702.2,1211.6 L703.4,1207.2 L704.5,1210.5 L705.7,1208.5 L706.9,1210.0 L708.0,1209.5 L709.2,1205.9 L710.3,1206.7 L711.5,1201.6 L712.6,1203.0 L713.8,1200.2 L715.0,1190.5 L716.2,1183.5 L717.5,1190.4 L718.7,1194.3 L720.7,1189.4 L721.9,1196.6 L723.1,1205.1 L724.3,1201.6 L725.4,1193.7 L726.6,1190.3 L728.0,1195.6 L729.5,1199.2 L731.0,1195.2 L732.5,1194.3 L733.8,1196.1 L735.1,1192.5 L736.4,1194.3 L737.5,1193.6 L738.6,1189.6 L739.7,1191.5 L740.8,1188.4 L742.0,1190.7 L743.1,1197.9 L744.3,1200.2 L745.6,1197.4 L746.9,1198.7 L748.2,1195.3 L749.3,1195.3 L750.4,1201.2 L751.5,1200.3 L752.5,1203.8 L753.6,1205.1 L754.8,1195.8 L755.9,1189.4 L757.1,1180.5 L758.2,1184.2 L759.4,1192.0 L760.5,1195.3 L762.2,1194.6 L764.0,1195.3 L765.8,1187.5 L767.6,1179.3 L769.4,1171.7 L771.0,1176.6 L772.6,1180.7 L774.3,1185.4 L776.5,1177.8 L778.7,1169.7 L781.7,1174.6 L783.6,1161.8 L785.4,1165.6 L787.1,1169.7 L789.5,1162.8 L792.0,1170.7 L794.0,1152.0 L796.4,1143.1 L798.1,1144.4 L799.9,1144.1 L801.3,1125.4 L803.3,1123.6 L805.3,1123.4 L808.2,1129.4 L810.2,1117.5 L813.1,1106.7 L816.1,1109.7 L818.1,1095.9 L819.9,1086.6 L821.8,1077.1 L823.5,1079.1 L825.3,1081.8 L827.4,1085.1 L829.4,1087.6 L831.5,1077.5 L833.5,1067.6 L835.3,1068.7 L837.1,1068.8 L840.0,1045.3 L841.8,1030.0 L844.7,1046.5 L846.5,1043.0 L848.2,1040.5 L850.0,1037.1 L852.4,1025.3 L855.3,1035.9 L858.2,1013.5 L860.0,1018.1 L861.8,1022.9 L863.5,1006.6 L865.3,990.0 L867.1,1002.2 L868.8,1014.7 L870.6,997.1 L872.6,988.4 L874.7,979.4 L876.7,977.6 L878.6,976.9 L880.6,974.7 L882.4,959.4 L885.3,955.9 L887.1,934.4 L888.8,912.9 L890.4,911.7 L892.0,909.5 L893.5,908.2 L895.9,877.6 L898.2,856.5 L899.4,823.5 L901.8,807.1 L904.1,785.9 L906.5,752.9 L908.8,722.4 L911.2,694.1 L912.4,670.6 L914.7,661.2 L915.9,635.3 L918.1,595.1 L920.1,571.0 L922.1,546.9 L923.6,531.9 L925.1,516.7 L926.6,511.4 L928.1,506.7 L929.6,503.9 L931.1,500.7 L933.1,482.6 L934.6,477.4 L936.1,472.6 L937.8,471.1 L939.5,468.1 L941.2,466.5 L942.7,462.2 L944.2,457.5 L945.7,464.6 L947.2,472.3 L948.7,479.2 L950.2,486.6 L951.7,471.7 L953.2,456.5 L955.0,461.9 L956.7,467.9 L958.5,472.8 L960.2,478.6 L961.9,475.0 L963.6,470.2 L965.3,466.5 L967.3,482.6 L968.8,473.2 L970.3,463.5 L971.8,471.0 L973.3,478.6 L975.3,470.6 L977.3,486.6 L978.8,483.9 L980.3,480.2 L981.8,477.8 L983.3,474.6 L984.3,458.5 L986.1,450.9 L988.1,430.8 L990.1,416.8 L991.6,412.1 L993.1,407.7 L995.1,408.9 L997.1,408.7 L999.1,396.7 L1001.1,382.6 L1002.6,380.1 L1004.1,378.6 L1005.7,358.6 L1007.4,361.2 L1009.1,362.6 L1011.1,361.7 L1013.1,361.6 L1014.8,362.1 L1016.5,360.5 L1018.2,361.6 L1019.7,364.5 L1021.2,366.6 L1022.7,373.4 L1024.2,380.6 L1025.7,387.0 L1027.2,392.7 L1029.2,399.4 L1031.2,406.7 L1033.2,414.1 L1035.2,420.8 L1036.7,428.6 L1038.2,436.8 L1040.2,448.9 L1041.7,451.2 L1043.2,452.9 L1044.7,456.6 L1046.3,460.9 L1047.8,460.3 L1049.3,458.9 L1050.8,466.2 L1052.8,482.8 L1054.4,492.0 L1056.0,501.5 L1057.7,504.8 L1059.4,506.6 L1061.2,509.9 L1063.2,536.9 L1064.8,543.3 L1066.4,549.3 L1067.9,554.3 L1069.5,559.7 L1071.0,568.2 L1072.6,576.3 L1074.1,582.4 L1075.7,588.8 L1077.8,591.5 L1079.9,592.9 L1081.9,613.7 L1083.5,624.0 L1085.0,634.5 L1087.1,635.2 L1089.2,634.5 L1090.8,642.6 L1092.3,651.1 L1093.9,660.6 L1095.4,669.8 L1097.0,679.0 L1098.5,688.5 L1100.1,697.0 L1101.7,705.1 L1103.2,705.4 L1104.8,707.2 L1106.9,719.6 L1108.3,739.5 L1110.4,744.9 L1112.5,749.9 L1114.5,755.9 L1116.6,762.3 L1118.7,787.3 L1120.8,803.9 L1122.3,797.9 L1123.9,791.4 L1125.5,802.6 L1127.0,814.3 L1128.7,812.5 L1130.5,809.6 L1132.2,808.0 L1133.8,818.6 L1135.3,828.8 L1136.9,827.4 L1138.4,828.1 L1140.0,826.9 L1141.6,826.7 L1143.6,837.1 L1145.7,835.7 L1147.8,833.0 L1149.3,835.9 L1150.9,839.2 L1152.6,839.7 L1154.4,838.4 L1156.1,839.2 L1158.2,830.9 L1159.7,844.5 L1161.3,857.9 L1163.4,855.2 L1165.4,853.7 L1167.5,862.0 L1169.3,861.8 L1171.0,859.8 L1172.7,860.0 L1174.8,867.4 L1176.9,874.5 L1178.9,857.9 L1180.5,868.1 L1182.1,878.7 L1183.6,881.0 L1185.2,882.8 L1186.7,891.0 L1188.3,899.4 L1189.9,907.8 L1191.4,916.1 L1193.5,930.6 L1195.6,929.1 L1197.6,928.5 L1199.7,935.0 L1201.8,941.0 L1203.4,950.2 L1204.9,959.7 L1206.6,959.6 L1208.4,958.0 L1210.1,957.6 L1211.7,964.2 L1213.2,970.1 L1215.3,972.7 L1217.4,976.3 L1219.5,987.0 L1221.5,997.1 L1223.3,988.0 L1225.0,979.2 L1226.7,970.1 L1228.3,982.5 L1229.8,995.0 L1231.4,995.9 L1232.9,995.8 L1234.5,996.7 L1236.3,1003.2 L1238.1,1009.3 L1240.8,1003.9 L1243.5,1011.1 L1245.1,1011.1 L1246.6,1012.4 L1248.2,1011.5 L1249.8,1012.9 L1252.0,1023.0 L1254.3,1032.7 L1256.5,1028.8 L1258.8,1025.5 L1261.0,1017.6 L1263.3,1009.3 L1266.0,1043.5 L1268.2,1046.8 L1270.5,1050.6 L1272.3,1046.4 L1274.1,1041.7 L1275.9,1045.9 L1277.7,1050.9 L1279.5,1054.8 L1281.3,1059.6 L1283.1,1060.9 L1284.9,1060.3 L1286.7,1061.4 L1288.5,1070.7 L1290.3,1079.4 L1292.5,1080.5 L1294.7,1083.0 L1296.5,1086.8 L1298.3,1090.2 L1300.1,1088.7 L1301.9,1088.1 L1303.7,1086.6 L1305.5,1094.1 L1307.3,1102.5 L1309.1,1110.0 L1310.9,1108.7 L1312.7,1109.1 L1314.5,1106.9 L1316.3,1106.4 L1318.3,1113.6 L1320.2,1120.0 L1322.2,1127.2 L1324.0,1128.8 L1325.8,1128.7 L1328.0,1136.5 L1330.2,1144.6 L1331.4,1146.2 L1332.6,1142.5 L1333.8,1144.6 L1335.0,1141.0 L1336.2,1134.9 L1337.4,1131.6 L1338.5,1140.3 L1339.6,1145.2 L1340.7,1155.9 L1341.8,1162.1 L1343.0,1152.3 L1344.2,1147.1 L1345.4,1137.4 L1346.6,1145.2 L1347.9,1157.3 L1349.1,1165.0 L1350.5,1157.5 L1352.0,1153.4 L1353.1,1159.5 L1354.3,1161.0 L1355.5,1167.3 L1356.6,1169.0 L1357.8,1175.2 L1358.9,1171.1 L1360.1,1163.3 L1361.3,1161.8 L1362.4,1154.3 L1363.6,1150.5 L1364.6,1154.0 L1365.6,1151.1 L1366.7,1154.9 L1367.7,1152.9 L1368.7,1154.8 L1369.8,1169.9 L1370.9,1182.4 L1372.1,1173.8 L1373.3,1169.5 L1374.5,1160.6 L1375.7,1164.9 L1376.9,1173.1 L1378.1,1176.6 L1379.6,1169.1 L1381.0,1165.0 L1382.1,1169.0 L1383.2,1166.9 L1384.3,1173.0 L1385.4,1173.7 L1386.9,1170.0 L1388.3,1169.3 L1389.8,1194.1 L1391.2,1179.9 L1392.7,1163.5 L1393.8,1166.8 L1394.8,1174.8 L1395.9,1177.2 L1397.0,1183.9 L1398.0,1186.0 L1399.1,1183.7 L1400.1,1188.8 L1401.1,1186.4 L1402.1,1190.5 L1403.1,1188.3 L1404.1,1192.7 L1405.2,1189.1 L1406.2,1193.3 L1407.2,1192.6 L1408.4,1188.5 L1409.5,1190.2 L1410.7,1184.4 L1411.9,1185.4 L1413.0,1182.4 L1414.2,1179.1 L1415.4,1181.4 L1416.6,1178.1 L1417.9,1181.4 L1419.1,1189.4 L1420.3,1194.1 L1421.5,1190.9 L1422.7,1193.1 L1423.9,1189.7 L1425.0,1198.0 L1426.1,1208.6 L1427.2,1206.1 L1428.3,1200.4 L1429.4,1199.8 L1430.5,1195.5 L1431.6,1194.8 L1432.8,1199.3 L1433.9,1196.0 L1435.1,1199.6 L1436.3,1198.4 L1437.5,1202.6 L1438.7,1211.7 L1439.9,1215.9 L1441.1,1209.1 L1442.3,1207.0 L1443.5,1199.9 L1444.6,1198.8 L1445.7,1203.4 L1446.8,1199.6 L1447.9,1202.8 L1449.3,1223.1 L1450.4,1223.7 L1451.5,1218.2 L1452.6,1220.3 L1453.7,1217.3 L1455.2,1212.7 L1456.6,1211.5 L1457.7,1213.2 L1458.8,1209.0 L1459.9,1213.2 L1461.0,1211.5 L1461.7,1230.4 L1462.7,1224.7 L1463.7,1223.4 L1464.8,1215.9 L1465.8,1214.1 L1466.8,1208.6 L1467.9,1216.6 L1469.0,1227.5 L1470.4,1222.9 L1471.9,1215.9 L1473.0,1215.4 L1474.1,1221.7 L1475.1,1219.7 L1476.2,1223.1 L1477.7,1221.4 L1479.1,1215.9 L1480.2,1218.4 L1481.3,1223.7 L1482.4,1223.6 L1483.5,1228.9 L1484.6,1223.7 L1485.7,1215.9 L1486.8,1217.5 L1487.9,1224.2 L1488.9,1223.9 L1490.0,1228.9 L1491.1,1230.0 L1492.1,1225.5 L1493.1,1227.5 L1494.1,1224.0 L1495.1,1224.6 L1496.2,1231.4 L1497.3,1236.2 L1498.8,1229.8 L1500.2,1226.0 L1501.4,1228.3 L1502.5,1223.3 L1503.7,1226.0 L1504.9,1222.1 L1506.0,1223.1 L1507.0,1228.2 L1508.1,1227.9 L1509.1,1235.6 L1510.1,1235.8 L1511.1,1240.6 L1512.1,1237.2 L1513.1,1229.9 L1514.2,1228.8 L1515.2,1221.5 L1516.2,1218.8 L1517.4,1220.7 L1518.6,1218.2 L1519.8,1221.7 L1520.6,1237.7" fill="none" stroke="#f00" stroke-width="4.8" stroke-linejoin="round" stroke-linecap="round"/>
<path d="M1520.0,1220.05 L1520.5,1220.16 L1521.0,1220.27 L1521.5,1220.38 L1522.0,1220.47 L1522.5,1218.87 L1523.0,1217.27 L1523.5,1215.91 L1524.0,1214.61 L1524.5,1214.10 L1525.0,1214.14 L1525.5,1214.18 L1526.0,1214.22 L1526.5,1214.27 L1527.0,1214.43 L1527.5,1214.93 L1528.0,1215.88 L1528.5,1222.07 L1529.0,1222.24 L1529.5,1230.01 L1530.0,1230.01 L1530.5,1230.01 L1531.0,1230.01 L1531.5,1230.01 L1532.0,1230.28 L1532.5,1230.78 L1533.0,1228.21 L1533.5,1226.34 L1534.0,1225.44 L1534.5,1224.54 L1535.0,1223.64 L1535.5,1222.92 L1536.0,1222.42 L1536.5,1221.92 L1537.0,1221.42 L1537.5,1220.92 L1538.0,1220.42 L1538.5,1219.92 L1539.0,1219.42 L1539.5,1219.17 L1540.0,1219.17 L1540.5,1219.17 L1541.0,1219.17 L1541.5,1219.17 L1542.0,1219.54 L1542.5,1220.14 L1543.0,1223.71 L1543.5,1224.04 L1544.0,1224.04 L1544.5,1224.04 L1545.0,1224.04 L1545.5,1224.04 L1546.0,1224.04 L1546.5,1224.04 L1547.0,1224.47 L1547.5,1224.97 L1548.0,1228.23 L1548.5,1230.73 L1549.0,1230.23 L1549.5,1230.05 L1550.0,1230.11 L1550.5,1230.17 L1551.0,1230.25 L1551.5,1231.00 L1552.0,1231.91 L1552.5,1233.28 L1553.0,1235.38 L1553.5,1238.25 L1554.0,1241.04 L1554.5,1243.79 L1555.0,1243.02 L1555.5,1241.34 L1556.0,1236.34 L1556.5,1231.49 L1557.0,1226.87 L1557.5,1224.52 L1558.0,1223.52 L1558.5,1222.93 L1559.0,1222.93 L1559.5,1222.93 L1560.0,1222.93 L1560.5,1222.93 L1561.0,1223.31 L1561.5,1224.01 L1562.0,1224.74 L1562.5,1225.54 L1563.0,1227.01 L1563.5,1229.24 L1564.0,1229.41 L1564.5,1229.57 L1565.0,1229.74 L1565.5,1229.91 L1566.0,1230.37 L1566.5,1231.37 L1567.0,1233.01 L1567.5,1236.48 L1568.0,1234.98 L1568.5,1233.05 L1569.0,1230.67 L1569.5,1229.77 L1570.0,1229.44 L1570.5,1229.13 L1571.0,1229.13 L1571.5,1229.13 L1572.0,1229.13 L1572.5,1229.13 L1573.0,1229.13 L1573.5,1229.13 L1574.0,1230.51 L1574.5,1229.58 L1575.0,1225.08 L1575.5,1221.65 L1576.0,1218.55 L1576.5,1216.90 L1577.0,1216.40 L1577.5,1216.07 L1578.0,1216.07 L1578.5,1216.07 L1579.0,1216.07 L1579.5,1216.07 L1580.0,1216.60 L1580.5,1217.72 L1581.0,1225.07 L1581.5,1227.02 L1582.0,1232.11 L1582.5,1236.63 L1583.0,1236.37 L1583.5,1236.21 L1584.0,1236.21 L1584.5,1236.21 L1585.0,1236.21 L1585.5,1236.21 L1586.0,1236.21 L1586.5,1236.21 L1587.0,1236.21 L1587.5,1236.21 L1588.0,1236.21 L1588.5,1236.21 L1589.0,1236.63 L1589.5,1237.18 L1590.0,1237.73 L1590.5,1238.28 L1591.0,1238.98 L1591.5,1239.93 L1592.0,1235.43 L1592.5,1232.46 L1593.0,1230.21 L1593.5,1229.33 L1594.0,1228.58 L1594.5,1227.61 L1595.0,1225.98 L1595.5,1224.84 L1596.0,1224.22 L1596.5,1224.06 L1597.0,1224.10 L1597.5,1224.13 L1598.0,1224.17 L1598.5,1224.20 L1599.0,1224.24 L1599.5,1225.96 L1600.0,1229.26 L1600.5,1229.26 L1601.0,1229.42 L1601.5,1234.08 L1602.0,1238.38 L1602.5,1239.51 L1603.0,1238.51 L1603.5,1238.12 L1604.0,1238.12 L1604.5,1238.12 L1605.0,1238.12 L1605.5,1238.12 L1606.0,1238.12 L1606.5,1238.12 L1607.0,1238.12 L1607.5,1238.12 L1608.0,1239.00 L1608.5,1240.16 L1609.0,1241.33 L1609.5,1241.29 L1610.0,1241.07 L1610.5,1241.07 L1611.0,1241.07 L1611.5,1241.07 L1612.0,1241.07 L1612.5,1241.07 L1613.0,1241.07 L1613.5,1241.07 L1614.0,1241.07 L1614.5,1241.07 L1615.0,1241.07 L1615.5,1241.07 L1616.0,1241.37 L1616.5,1241.94 L1617.0,1242.51 L1617.5,1242.68 L1618.0,1238.01 L1618.5,1234.65 L1619.0,1232.15 L1619.5,1231.07 L1620.0,1230.82 L1620.5,1230.57 L1621.0,1230.32 L1621.5,1230.07 L1622.0,1230.18 L1622.5,1230.43 L1623.0,1230.68 L1623.5,1230.93 L1624.0,1231.18 L1624.5,1233.82 L1625.0,1237.07 L1625.5,1234.11 L1626.0,1229.86 L1626.5,1229.00 L1627.0,1228.68 L1627.5,1228.37 L1628.0,1228.06 L1628.5,1228.41 L1629.0,1228.82 L1629.5,1229.23 L1630.0,1229.64 L1630.5,1230.05 L1631.0,1232.18 L1631.5,1233.82 L1632.0,1233.60 L1632.5,1233.38 L1633.0,1233.15 L1633.5,1233.00 L1634.0,1233.45 L1634.5,1233.90 L1635.0,1234.35 L1635.5,1234.80 L1636.0,1235.95 L1636.5,1240.20 L1637.0,1243.26 L1637.5,1242.01 L1638.0,1240.82 L1638.5,1239.82 L1639.0,1238.82 L1639.5,1237.67 L1640.0,1236.17 L1640.5,1235.03 L1641.0,1234.61 L1641.5,1234.20 L1642.0,1233.94 L1642.5,1233.94 L1643.0,1233.94 L1643.5,1233.94 L1644.0,1233.94 L1644.5,1230.13 L1645.0,1226.13 L1645.5,1225.79 L1646.0,1225.50 L1646.5,1225.21 L1647.0,1225.12 L1647.5,1225.18 L1648.0,1225.24 L1648.5,1225.30 L1649.0,1225.86 L1649.5,1226.74 L1650.0,1229.45 L1650.5,1230.49 L1651.0,1230.12 L1651.5,1229.87 L1652.0,1229.69 L1652.5,1229.50 L1653.0,1229.31 L1653.5,1228.42 L1654.0,1227.29 L1654.5,1227.05 L1655.0,1227.05 L1655.5,1227.05 L1656.0,1227.05 L1656.5,1227.05 L1657.0,1227.05 L1657.5,1227.05 L1658.0,1227.50 L1658.5,1228.00 L1659.0,1235.76 L1659.5,1239.96 L1660.0,1243.46 L1660.5,1243.12 L1661.0,1242.70 L1661.5,1242.29 L1662.0,1241.87 L1662.5,1241.45 L1663.0,1240.84 L1663.5,1237.84 L1664.0,1235.13 L1664.5,1234.82 L1665.0,1234.51 L1665.5,1234.20 L1666.0,1233.96 L1666.5,1234.11 L1667.0,1234.25 L1667.5,1234.39 L1668.0,1234.77 L1668.5,1235.23 L1669.0,1235.69 L1669.5,1236.15 L1670.0,1236.61 L1670.5,1237.07 L1671.0,1237.89 L1671.5,1239.39 L1672.0,1240.89 L1672.5,1241.08 L1673.0,1239.21 L1673.5,1237.70 L1674.0,1236.70 L1674.5,1236.15 L1675.0,1236.15 L1675.5,1236.15 L1676.0,1236.15 L1676.5,1236.15 L1677.0,1236.55 L1677.5,1237.30 L1678.0,1238.05 L1678.5,1238.80 L1679.0,1241.49 L1679.5,1243.04 L1680.0,1243.04 L1680.5,1243.04 L1681.0,1243.04 L1681.5,1243.04 L1682.0,1243.04 L1682.5,1243.27 L1683.0,1243.61 L1683.5,1243.94 L1684.0,1241.49 L1684.5,1238.16 L1685.0,1234.82 L1685.5,1233.38 L1686.0,1232.38 L1686.5,1232.22 L1687.0,1232.22 L1687.5,1232.22 L1688.0,1232.22 L1688.5,1232.22 L1689.0,1232.22 L1689.5,1232.68 L1690.0,1233.18 L1690.5,1229.32 L1691.0,1228.85 L1691.5,1228.44 L1692.0,1228.05 L1692.5,1228.50 L1693.0,1228.95 L1693.5,1229.40 L1694.0,1229.85 L1694.5,1231.53 L1695.0,1241.03 L1695.5,1240.69 L1696.0,1240.36 L1696.5,1240.08 L1697.0,1240.05 L1697.5,1240.03 L1698.0,1240.00 L1698.5,1239.97 L1699.0,1239.94 L1699.5,1239.92 L1700.0,1239.89 L1700.5,1239.89 L1701.0,1239.89 L1701.5,1239.89 L1702.0,1240.17 L1702.5,1242.50 L1703.0,1239.67 L1703.5,1237.00 L1704.0,1234.37 L1704.5,1232.90 L1705.0,1232.51 L1705.5,1232.12 L1706.0,1231.73 L1706.5,1231.35 L1707.0,1231.23 L1707.5,1231.48 L1708.0,1231.73 L1708.5,1232.01 L1709.0,1233.39 L1709.5,1234.76 L1710.0,1237.26 L1710.5,1240.01 L1711.0,1241.76 L1711.5,1243.51 L1712.0,1247.81 L1712.5,1247.81 L1713.0,1247.81 L1713.5,1247.81 L1714.0,1247.81 L1714.5,1244.89 L1715.0,1242.39 L1715.5,1240.23 L1716.0,1238.48 L1716.5,1237.06 L1717.0,1237.06 L1717.5,1237.06 L1718.0,1237.06 L1718.5,1237.06 L1719.0,1237.06 L1719.5,1237.06 L1720.0,1237.06 L1720.5,1237.06 L1721.0,1237.17 L1721.5,1237.91 L1722.0,1237.66 L1722.5,1237.41 L1723.0,1237.16 L1723.5,1237.09 L1724.0,1237.13 L1724.5,1237.17 L1725.0,1237.21 L1725.5,1237.25 L1726.0,1237.29 L1726.5,1237.34 L1727.0,1238.17 L1727.5,1239.17 L1728.0,1240.17 L1728.5,1240.76 L1729.0,1240.80 L1729.5,1240.84 L1730.0,1240.88 L1730.5,1240.92 L1731.0,1240.96 L1731.5,1241.01 L1732.0,1241.56 L1732.5,1242.39 L1733.0,1243.23 L1733.5,1244.14 L1734.0,1245.31 L1734.5,1245.55 L1735.0,1245.05 L1735.5,1244.55 L1736.0,1244.05 L1736.5,1243.55 L1737.0,1243.10 L1737.5,1242.70 L1738.0,1242.30 L1738.5,1241.90 L1739.0,1241.50 L1739.5,1241.10 L1740.0,1241.32 L1740.5,1241.70 L1741.0,1242.07 L1741.5,1242.45 L1742.0,1242.07 L1742.5,1239.77 L1743.0,1237.47 L1743.5,1233.78 L1744.0,1228.40 L1744.5,1223.90 L1745.0,1223.12 L1745.5,1222.35 L1746.0,1221.57 L1746.5,1220.79 L1747.0,1220.12 L1747.5,1220.46 L1748.0,1220.79 L1748.5,1221.12 L1749.0,1222.72 L1749.5,1224.85 L1750.0,1226.23 L1750.5,1226.69 L1751.0,1227.15 L1751.5,1227.61 L1752.0,1228.07 L1752.5,1228.53 L1753.0,1228.98 L1753.5,1230.45 L1754.0,1232.45 L1754.5,1234.29 L1755.0,1235.89 L1755.5,1237.49 L1756.0,1236.69 L1756.5,1234.02 L1757.0,1233.23 L1757.5,1232.73 L1758.0,1232.23 L1758.5,1231.97 L1759.0,1231.97 L1759.5,1231.97 L1760.0,1231.97 L1760.5,1231.97 L1761.0,1231.97 L1761.5,1230.00 L1762.0,1230.04 L1762.5,1230.08 L1763.0,1230.12 L1763.5,1230.15 L1764.0,1230.19 L1764.5,1230.23 L1765.0,1230.27 L1765.5,1230.87 L1766.0,1233.40 L1766.5,1237.06 L1767.0,1237.06 L1767.5,1237.06 L1768.0,1237.06 L1768.5,1237.06 L1769.0,1237.06 L1769.5,1237.06 L1770.0,1237.48 L1770.5,1237.98 L1771.0,1236.59 L1771.5,1234.97 L1772.0,1234.72 L1772.5,1234.47 L1773.0,1234.24 L1773.5,1234.44 L1774.0,1234.64 L1774.5,1234.84 L1775.0,1235.04 L1775.5,1235.24 L1776.0,1235.83 L1776.5,1237.00 L1777.0,1238.17 L1777.5,1239.35 L1778.0,1242.35 L1778.5,1244.83 L1779.0,1246.16 L1779.5,1246.60 L1780.0,1246.48 L1780.5,1246.35 L1781.0,1246.23 L1781.5,1245.65 L1782.0,1240.40 L1782.5,1239.90 L1783.0,1239.61 L1783.5,1239.33 L1784.0,1239.04 L1784.5,1239.43 L1785.0,1239.82 L1785.5,1240.21 L1786.0,1240.60 L1786.5,1240.98 L1787.0,1243.74 L1787.5,1246.32 L1788.0,1247.32 L1788.5,1247.81 L1789.0,1247.81 L1789.5,1247.81 L1790.0,1247.81 L1790.5,1247.81 L1791.0,1247.81 L1791.5,1247.81 L1792.0,1247.81 L1792.5,1247.81 L1793.0,1247.81 L1793.5,1247.81 L1794.0,1245.82 L1794.5,1245.42 L1795.0,1245.29 L1795.5,1245.15 L1796.0,1245.02 L1796.5,1245.20 L1797.0,1245.54 L1797.5,1245.87 L1798.0,1246.20 L1798.5,1246.54 L1799.0,1247.81 L1799.5,1247.81 L1800.0,1247.81 L1800.5,1247.81 L1801.0,1247.81 L1801.5,1247.81 L1802.0,1247.81 L1802.5,1245.16 L1803.0,1241.93 L1803.5,1239.68 L1804.0,1237.43 L1804.5,1235.18 L1805.0,1232.93 L1805.5,1230.97 L1806.0,1229.22 L1806.5,1227.93 L1807.0,1227.68 L1807.5,1227.43 L1808.0,1227.18 L1808.5,1226.93 L1809.0,1227.17 L1809.5,1227.55 L1810.0,1227.92 L1810.5,1228.30 L1811.0,1229.01 L1811.5,1230.67 L1812.0,1247.69 L1812.0,1247.81 L1811.5,1247.81 L1811.0,1247.81 L1810.5,1247.81 L1810.0,1247.81 L1809.5,1247.81 L1809.0,1247.81 L1808.5,1247.81 L1808.0,1247.81 L1807.5,1247.81 L1807.0,1247.81 L1806.5,1247.81 L1806.0,1247.81 L1805.5,1247.81 L1805.0,1247.81 L1804.5,1247.81 L1804.0,1247.81 L1803.5,1247.81 L1803.0,1247.81 L1802.5,1247.81 L1802.0,1247.81 L1801.5,1247.81 L1801.0,1247.81 L1800.5,1247.81 L1800.0,1247.81 L1799.5,1247.81 L1799.0,1247.81 L1798.5,1247.81 L1798.0,1247.81 L1797.5,1247.81 L1797.0,1247.81 L1796.5,1247.81 L1796.0,1247.81 L1795.5,1247.81 L1795.0,1247.81 L1794.5,1247.81 L1794.0,1247.81 L1793.5,1247.81 L1793.0,1247.81 L1792.5,1247.81 L1792.0,1247.81 L1791.5,1247.81 L1791.0,1247.81 L1790.5,1247.81 L1790.0,1247.81 L1789.5,1247.81 L1789.0,1247.81 L1788.5,1247.81 L1788.0,1247.81 L1787.5,1247.81 L1787.0,1247.81 L1786.5,1247.81 L1786.0,1247.81 L1785.5,1247.81 L1785.0,1247.81 L1784.5,1247.81 L1784.0,1247.81 L1783.5,1247.81 L1783.0,1247.81 L1782.5,1247.81 L1782.0,1247.81 L1781.5,1247.81 L1781.0,1247.81 L1780.5,1247.81 L1780.0,1247.81 L1779.5,1247.81 L1779.0,1247.81 L1778.5,1247.81 L1778.0,1247.81 L1777.5,1247.81 L1777.0,1247.81 L1776.5,1247.81 L1776.0,1247.81 L1775.5,1247.81 L1775.0,1247.81 L1774.5,1247.81 L1774.0,1247.81 L1773.5,1247.81 L1773.0,1247.81 L1772.5,1247.81 L1772.0,1247.81 L1771.5,1247.81 L1771.0,1247.81 L1770.5,1247.81 L1770.0,1247.81 L1769.5,1247.81 L1769.0,1247.81 L1768.5,1247.81 L1768.0,1247.81 L1767.5,1247.81 L1767.0,1247.81 L1766.5,1247.81 L1766.0,1247.81 L1765.5,1247.81 L1765.0,1247.81 L1764.5,1247.81 L1764.0,1247.81 L1763.5,1247.81 L1763.0,1247.81 L1762.5,1247.81 L1762.0,1239.99 L1761.5,1237.91 L1761.0,1237.91 L1760.5,1237.91 L1760.0,1237.91 L1759.5,1237.91 L1759.0,1237.91 L1758.5,1247.81 L1758.0,1247.81 L1757.5,1247.81 L1757.0,1247.81 L1756.5,1247.81 L1756.0,1247.81 L1755.5,1247.81 L1755.0,1247.81 L1754.5,1247.81 L1754.0,1247.81 L1753.5,1247.81 L1753.0,1247.81 L1752.5,1247.81 L1752.0,1247.81 L1751.5,1247.81 L1751.0,1247.81 L1750.5,1247.81 L1750.0,1247.81 L1749.5,1247.81 L1749.0,1247.81 L1748.5,1247.81 L1748.0,1247.81 L1747.5,1247.81 L1747.0,1247.81 L1746.5,1247.81 L1746.0,1247.81 L1745.5,1247.81 L1745.0,1247.81 L1744.5,1247.81 L1744.0,1247.81 L1743.5,1247.81 L1743.0,1247.81 L1742.5,1247.81 L1742.0,1247.81 L1741.5,1247.81 L1741.0,1247.81 L1740.5,1247.81 L1740.0,1247.81 L1739.5,1247.81 L1739.0,1247.81 L1738.5,1247.81 L1738.0,1247.81 L1737.5,1247.81 L1737.0,1247.81 L1736.5,1247.81 L1736.0,1247.81 L1735.5,1247.81 L1735.0,1247.81 L1734.5,1247.81 L1734.0,1247.81 L1733.5,1247.81 L1733.0,1247.81 L1732.5,1247.81 L1732.0,1247.81 L1731.5,1247.81 L1731.0,1247.81 L1730.5,1247.81 L1730.0,1247.81 L1729.5,1247.81 L1729.0,1247.81 L1728.5,1247.81 L1728.0,1247.81 L1727.5,1247.81 L1727.0,1247.81 L1726.5,1247.81 L1726.0,1247.81 L1725.5,1247.81 L1725.0,1247.81 L1724.5,1247.81 L1724.0,1247.81 L1723.5,1247.81 L1723.0,1247.81 L1722.5,1247.81 L1722.0,1247.81 L1721.5,1247.81 L1721.0,1247.81 L1720.5,1247.81 L1720.0,1247.81 L1719.5,1247.81 L1719.0,1247.81 L1718.5,1247.81 L1718.0,1247.81 L1717.5,1247.81 L1717.0,1247.81 L1716.5,1247.81 L1716.0,1247.81 L1715.5,1247.81 L1715.0,1247.81 L1714.5,1247.81 L1714.0,1247.81 L1713.5,1247.81 L1713.0,1247.81 L1712.5,1247.81 L1712.0,1247.81 L1711.5,1247.81 L1711.0,1247.81 L1710.5,1247.81 L1710.0,1247.81 L1709.5,1247.81 L1709.0,1247.81 L1708.5,1247.81 L1708.0,1247.81 L1707.5,1247.81 L1707.0,1247.81 L1706.5,1247.81 L1706.0,1247.81 L1705.5,1247.81 L1705.0,1247.81 L1704.5,1247.81 L1704.0,1247.81 L1703.5,1247.81 L1703.0,1247.81 L1702.5,1247.81 L1702.0,1247.81 L1701.5,1247.81 L1701.0,1247.81 L1700.5,1247.81 L1700.0,1247.81 L1699.5,1247.81 L1699.0,1247.81 L1698.5,1247.82 L1698.0,1247.82 L1697.5,1247.82 L1697.0,1247.82 L1696.5,1247.83 L1696.0,1247.83 L1695.5,1247.83 L1695.0,1247.83 L1694.5,1247.83 L1694.0,1247.84 L1693.5,1247.84 L1693.0,1247.84 L1692.5,1247.84 L1692.0,1247.85 L1691.5,1247.85 L1691.0,1247.85 L1690.5,1247.85 L1690.0,1247.86 L1689.5,1247.86 L1689.0,1247.86 L1688.5,1247.86 L1688.0,1247.87 L1687.5,1247.87 L1687.0,1247.87 L1686.5,1247.87 L1686.0,1247.88 L1685.5,1247.88 L1685.0,1247.88 L1684.5,1247.88 L1684.0,1247.89 L1683.5,1247.89 L1683.0,1247.89 L1682.5,1247.89 L1682.0,1247.89 L1681.5,1247.90 L1681.0,1247.90 L1680.5,1247.90 L1680.0,1247.90 L1679.5,1247.91 L1679.0,1247.91 L1678.5,1247.91 L1678.0,1247.91 L1677.5,1247.92 L1677.0,1247.92 L1676.5,1247.92 L1676.0,1247.92 L1675.5,1247.93 L1675.0,1247.93 L1674.5,1247.93 L1674.0,1247.93 L1673.5,1247.94 L1673.0,1247.94 L1672.5,1247.94 L1672.0,1247.94 L1671.5,1247.94 L1671.0,1247.95 L1670.5,1247.95 L1670.0,1247.95 L1669.5,1247.95 L1669.0,1246.64 L1668.5,1245.00 L1668.0,1245.00 L1667.5,1245.00 L1667.0,1245.00 L1666.5,1247.96 L1666.0,1247.96 L1665.5,1247.96 L1665.0,1247.96 L1664.5,1247.96 L1664.0,1247.96 L1663.5,1247.96 L1663.0,1244.64 L1662.5,1244.02 L1662.0,1244.02 L1661.5,1244.02 L1661.0,1244.02 L1660.5,1244.02 L1660.0,1244.02 L1659.5,1244.02 L1659.0,1244.44 L1658.5,1247.96 L1658.0,1247.96 L1657.5,1247.96 L1657.0,1247.96 L1656.5,1247.96 L1656.0,1233.69 L1655.5,1233.69 L1655.0,1233.69 L1654.5,1233.69 L1654.0,1233.69 L1653.5,1233.69 L1653.0,1240.85 L1652.5,1247.96 L1652.0,1247.96 L1651.5,1247.96 L1651.0,1247.96 L1650.5,1247.96 L1650.0,1247.96 L1649.5,1247.96 L1649.0,1247.96 L1648.5,1247.96 L1648.0,1247.96 L1647.5,1247.96 L1647.0,1247.96 L1646.5,1247.96 L1646.0,1247.96 L1645.5,1247.96 L1645.0,1247.96 L1644.5,1247.96 L1644.0,1247.96 L1643.5,1247.96 L1643.0,1247.96 L1642.5,1247.96 L1642.0,1247.96 L1641.5,1247.96 L1641.0,1247.96 L1640.5,1247.96 L1640.0,1247.96 L1639.5,1247.96 L1639.0,1247.96 L1638.5,1247.96 L1638.0,1247.96 L1637.5,1247.96 L1637.0,1247.96 L1636.5,1247.96 L1636.0,1247.96 L1635.5,1247.96 L1635.0,1247.96 L1634.5,1247.96 L1634.0,1247.96 L1633.5,1247.96 L1633.0,1247.96 L1632.5,1247.96 L1632.0,1247.96 L1631.5,1247.96 L1631.0,1247.96 L1630.5,1247.96 L1630.0,1247.96 L1629.5,1247.96 L1629.0,1247.96 L1628.5,1247.96 L1628.0,1247.96 L1627.5,1247.96 L1627.0,1247.96 L1626.5,1247.96 L1626.0,1247.96 L1625.5,1247.96 L1625.0,1247.96 L1624.5,1247.96 L1624.0,1247.96 L1623.5,1247.96 L1623.0,1247.96 L1622.5,1247.96 L1622.0,1247.96 L1621.5,1247.96 L1621.0,1247.96 L1620.5,1247.96 L1620.0,1247.96 L1619.5,1247.96 L1619.0,1247.96 L1618.5,1247.96 L1618.0,1247.96 L1617.5,1247.96 L1617.0,1247.96 L1616.5,1247.96 L1616.0,1247.96 L1615.5,1247.96 L1615.0,1247.96 L1614.5,1247.96 L1614.0,1247.96 L1613.5,1247.96 L1613.0,1247.96 L1612.5,1247.96 L1612.0,1247.96 L1611.5,1247.96 L1611.0,1247.96 L1610.5,1247.96 L1610.0,1247.96 L1609.5,1247.96 L1609.0,1247.96 L1608.5,1247.96 L1608.0,1247.96 L1607.5,1247.96 L1607.0,1247.96 L1606.5,1247.96 L1606.0,1247.96 L1605.5,1247.96 L1605.0,1247.96 L1604.5,1247.96 L1604.0,1247.96 L1603.5,1247.96 L1603.0,1247.96 L1602.5,1247.96 L1602.0,1247.96 L1601.5,1247.96 L1601.0,1247.96 L1600.5,1247.96 L1600.0,1247.96 L1599.5,1247.95 L1599.0,1247.95 L1598.5,1247.94 L1598.0,1240.80 L1597.5,1238.57 L1597.0,1237.94 L1596.5,1237.32 L1596.0,1238.17 L1595.5,1242.67 L1595.0,1246.65 L1594.5,1247.94 L1594.0,1247.94 L1593.5,1247.94 L1593.0,1247.94 L1592.5,1247.94 L1592.0,1247.94 L1591.5,1247.94 L1591.0,1247.94 L1590.5,1247.94 L1590.0,1247.94 L1589.5,1246.96 L1589.0,1245.86 L1588.5,1244.76 L1588.0,1243.66 L1587.5,1242.49 L1587.0,1241.24 L1586.5,1240.86 L1586.0,1240.86 L1585.5,1240.86 L1585.0,1240.86 L1584.5,1240.86 L1584.0,1241.05 L1583.5,1241.55 L1583.0,1242.05 L1582.5,1242.55 L1582.0,1243.05 L1581.5,1243.23 L1581.0,1243.40 L1580.5,1243.56 L1580.0,1243.73 L1579.5,1243.90 L1579.0,1242.03 L1578.5,1240.92 L1578.0,1240.42 L1577.5,1239.96 L1577.0,1239.87 L1576.5,1239.78 L1576.0,1239.69 L1575.5,1239.60 L1575.0,1239.51 L1574.5,1239.42 L1574.0,1239.33 L1573.5,1239.24 L1573.0,1239.15 L1572.5,1239.18 L1572.0,1239.43 L1571.5,1239.68 L1571.0,1239.93 L1570.5,1243.66 L1570.0,1247.94 L1569.5,1247.94 L1569.0,1247.94 L1568.5,1247.94 L1568.0,1247.94 L1567.5,1247.94 L1567.0,1247.94 L1566.5,1247.94 L1566.0,1247.94 L1565.5,1247.94 L1565.0,1247.94 L1564.5,1247.94 L1564.0,1247.94 L1563.5,1247.94 L1563.0,1247.94 L1562.5,1236.02 L1562.0,1235.32 L1561.5,1234.66 L1561.0,1234.56 L1560.5,1235.56 L1560.0,1236.56 L1559.5,1239.96 L1559.0,1244.46 L1558.5,1245.91 L1558.0,1247.08 L1557.5,1247.94 L1557.0,1247.94 L1556.5,1247.94 L1556.0,1247.94 L1555.5,1247.94 L1555.0,1247.94 L1554.5,1247.94 L1554.0,1247.94 L1553.5,1247.94 L1553.0,1247.94 L1552.5,1247.94 L1552.0,1247.94 L1551.5,1247.94 L1551.0,1247.94 L1550.5,1246.84 L1550.0,1245.72 L1549.5,1244.59 L1549.0,1244.10 L1548.5,1244.44 L1548.0,1244.77 L1547.5,1244.58 L1547.0,1244.25 L1546.5,1243.92 L1546.0,1243.58 L1545.5,1243.25 L1545.0,1235.99 L1544.5,1235.99 L1544.0,1235.99 L1543.5,1235.99 L1543.0,1235.99 L1542.5,1235.99 L1542.0,1235.99 L1541.5,1235.99 L1541.0,1235.49 L1540.5,1234.49 L1540.0,1228.39 L1539.5,1227.13 L1539.0,1227.13 L1538.5,1227.13 L1538.0,1227.44 L1537.5,1228.44 L1537.0,1229.44 L1536.5,1232.05 L1536.0,1235.55 L1535.5,1241.67 L1535.0,1242.24 L1534.5,1242.74 L1534.0,1243.24 L1533.5,1243.79 L1533.0,1244.42 L1532.5,1245.04 L1532.0,1245.67 L1531.5,1246.63 L1531.0,1247.63 L1530.5,1247.94 L1530.0,1247.94 L1529.5,1247.94 L1529.0,1247.94 L1528.5,1247.94 L1528.0,1247.94 L1527.5,1247.94 L1527.0,1247.94 L1526.5,1247.94 L1526.0,1245.17 L1525.5,1242.00 L1525.0,1242.50 L1524.5,1242.63 L1524.0,1242.63 L1523.5,1242.63 L1523.0,1242.63 L1522.5,1242.63 L1522.0,1242.63 L1521.5,1241.64 L1521.0,1240.64 L1520.5,1237.14 L1520.0,1232.89 Z" fill="#f00" stroke="none"/>
</g>
<text transform="translate(0,1259.95) scale(0.963,1)" x="214.12" y="0" font-size="48">0</text>
<text transform="translate(0,968.70) scale(0.963,1)" x="136.08 162.20 188.16 214.12" y="0" font-size="48">5000</text>
<text transform="translate(0,677.45) scale(0.963,1)" x="111.40 136.13 162.20 188.16 214.12" y="0" font-size="48">10000</text><rect x="109.30" y="673.46" width="9.60" height="4.79" fill="#fff"/><rect x="122.99" y="673.46" width="9.24" height="4.79" fill="#fff"/>
<text transform="translate(0,386.20) scale(0.963,1)" x="111.40 136.08 162.20 188.16 214.12" y="0" font-size="48">15000</text><rect x="109.30" y="382.21" width="9.60" height="4.79" fill="#fff"/><rect x="122.99" y="382.21" width="9.24" height="4.79" fill="#fff"/>
<text transform="translate(0,94.95) scale(0.963,1)" x="107.55 136.13 162.20 188.16 214.12" y="0" font-size="48">20000</text>
<text transform="translate(0,1322.40) scale(0.963,1)" x="238.29 266.14 292.62" y="0" font-size="48">200</text>
<text transform="translate(0,1322.40) scale(0.963,1)" x="505.25 533.06 559.58" y="0" font-size="48">250</text>
<text transform="translate(0,1322.40) scale(0.963,1)" x="774.67 800.06 826.54" y="0" font-size="48">300</text>
<text transform="translate(0,1322.40) scale(0.963,1)" x="1041.63 1066.98 1093.50" y="0" font-size="48">350</text>
<text transform="translate(0,1322.40) scale(0.963,1)" x="1307.45 1333.99 1360.46" y="0" font-size="48">400</text>
<text transform="translate(0,1322.40) scale(0.963,1)" x="1574.41 1600.90 1627.43" y="0" font-size="48">450</text>
<text transform="translate(0,1322.40) scale(0.963,1)" x="1840.55 1867.91 1894.39" y="0" font-size="48">500</text>
<text transform="translate(833.65,1413.75) scale(0.9646,1)" font-size="58.5">Wavelength(nm)</text>
<text transform="translate(71.90,1022.43) rotate(-90) scale(0.9850,1)" font-size="58.5">Fluorescence Intensity(a.u.)</text>
<line x1="1168" y1="124" x2="1293" y2="124" stroke="#000" stroke-width="4" stroke-linecap="round"/>
<line x1="1175" y1="265" x2="1300" y2="265" stroke="#f00" stroke-width="4" stroke-linecap="round"/>
<text transform="translate(1307.45,144.00) scale(0.9558,1)" font-size="58.5">diesel oil spectrum</text>
<text transform="translate(1292.08,213.80) scale(0.9554,1)" font-size="58.5">with soil background</text>
<text transform="translate(1314.45,284.70) scale(0.9583,1)" font-size="58.5">diesel oil spectrum</text>
<text transform="translate(1292.11,354.80) scale(0.9583,1)" font-size="58.5">for removing soil background</text>
</svg></body></html>
